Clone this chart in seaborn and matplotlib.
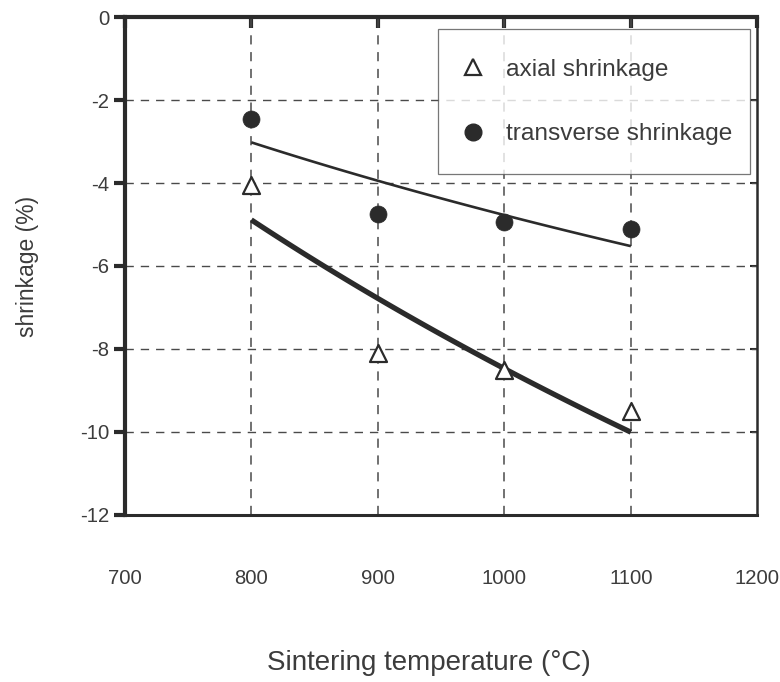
import numpy as np
import pandas as pd
import seaborn as sns
import matplotlib
matplotlib.use("Agg")
import matplotlib.pyplot as plt
from matplotlib.lines import Line2D

# Sintering temperature (°C) and measured shrinkage (%)
temperature = [800, 900, 1000, 1100]
axial_shrinkage = [-4.05, -8.1, -8.5, -9.5]
transverse_shrinkage = [-2.46, -4.75, -4.95, -5.1]

x_ticks = [700, 800, 900, 1000, 1100, 1200]
y_ticks = [0, -2, -4, -6, -8, -10, -12]
series_labels = ["axial shrinkage", "transverse shrinkage"]

df = pd.DataFrame({
    "temperature": temperature,
    "axial": axial_shrinkage,
    "transverse": transverse_shrinkage,
})

sns.set_theme(style="white")
plt.rcParams["font.family"] = ["Liberation Sans", "DejaVu Sans"]

ink = "#2b2b2b"
text_c = "#3c3c3c"
grid_c = "#4a4a4a"

fig = plt.figure(figsize=(7.8, 6.82), dpi=100)
ax = fig.add_axes([0.160, 0.245, 0.811, 0.730])

# logarithmic trend lines through each series
sns.regplot(data=df, x="temperature", y="axial", logx=True, ci=None,
            scatter=False, ax=ax,
            line_kws=dict(color=ink, lw=3.8, solid_capstyle="butt", zorder=3))
sns.regplot(data=df, x="temperature", y="transverse", logx=True, ci=None,
            scatter=False, ax=ax,
            line_kws=dict(color=ink, lw=1.9, solid_capstyle="butt", zorder=3))

# measured points
sns.scatterplot(data=df, x="temperature", y="axial", marker="^", s=150,
                facecolor="white", edgecolor=ink, linewidth=1.6, ax=ax, zorder=4)
sns.scatterplot(data=df, x="temperature", y="transverse", marker="o", s=150,
                color=ink, edgecolor=ink, linewidth=0.5, ax=ax, zorder=4)

ax.set_xlim(700, 1200)
ax.set_ylim(-12, 0)
ax.set_xticks(x_ticks)
ax.set_yticks(y_ticks)
ax.set_xticklabels([str(t) for t in x_ticks])
ax.set_yticklabels([str(t) for t in y_ticks])

# dashed grid at the interior ticks
for t in x_ticks[1:-1]:
    ax.axvline(t, color=grid_c, lw=1.1, ls=(0, (6, 5)), zorder=1)
for t in y_ticks[1:-1]:
    ax.axhline(t, color=grid_c, lw=1.0, ls=(0, (6, 5)), zorder=1)

# frame
for side, w in [("left", 3.0), ("top", 3.0), ("bottom", 2.2), ("right", 1.8)]:
    ax.spines[side].set_visible(True)
    ax.spines[side].set_color(ink)
    ax.spines[side].set_linewidth(w)

ax.tick_params(axis="y", left=True, right=False, direction="out", length=8,
               width=3, color=ink, pad=3, labelsize=14.6, labelcolor=text_c)
ax.tick_params(axis="x", bottom=False, top=True, direction="in", length=8,
               width=3, color=ink, pad=39, labelsize=14.6, labelcolor=text_c,
               labeltop=False, labelbottom=True)

sec = ax.secondary_yaxis("right")
sec.set_yticks(y_ticks[1:-1])
sec.tick_params(direction="in", length=5, width=1.5, color=ink, labelright=False)
sec.spines["right"].set_visible(False)

ax.set_xlabel("Sintering temperature (°C)", fontsize=20, color=text_c)
ax.xaxis.set_label_coords(0.481, -0.297)
ax.xaxis.label.set_va("center")
ax.set_ylabel("shrinkage (%)", fontsize=16.5, color=text_c, labelpad=30)

handles = [
    Line2D([], [], ls="none", marker="^", markersize=12, markerfacecolor="white",
           markeredgecolor=ink, markeredgewidth=1.6),
    Line2D([], [], ls="none", marker="o", markersize=12, markerfacecolor=ink,
           markeredgecolor=ink),
]
leg = ax.legend(handles, series_labels, loc="upper left",
                bbox_to_anchor=(0.495, 0.975, 0.494, 0.0), mode="expand",
                frameon=True, fancybox=False, prop={"size": 17.6},
                labelcolor=text_c, borderpad=1.2, labelspacing=1.72,
                handlelength=0.47, handletextpad=1.1, borderaxespad=0)
leg.get_frame().set_edgecolor("#555555")
leg.get_frame().set_linewidth(0.9)

fig.savefig("out.png", dpi=100, facecolor="white")
